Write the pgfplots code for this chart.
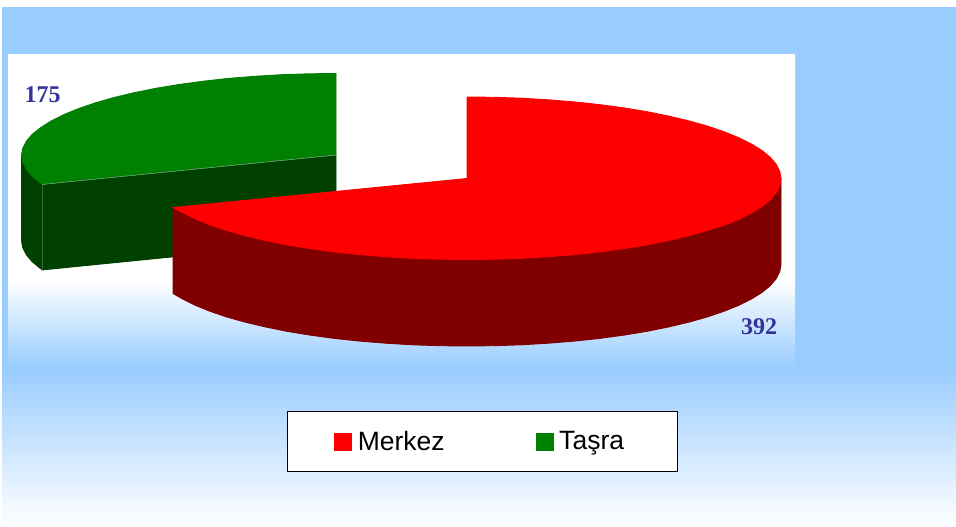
\documentclass[border=0pt]{standalone}
\usepackage{fontspec}
\setmainfont{Liberation Sans}
\newfontfamily\labelfont{Liberation Serif}
\usepackage{pgfplots}
\pgfplotsset{compat=1.18}

\definecolor{skyb}{HTML}{99CCFF}
\definecolor{lblue}{HTML}{333399}
\definecolor{topred}{HTML}{FF0000}
\definecolor{sidered}{HTML}{800000}
\definecolor{topgreen}{HTML}{008000}
\definecolor{sidegreen}{HTML}{004000}

\pgfplotsset{
  panel/.style={draw=none, top color=#1, bottom color=#1},
  slice/.style={draw=#1, fill=#1, line width=0.9pt, line join=round},
}

\begin{document}
\begin{tikzpicture}
\begin{axis}[
  scale only axis,
  width=956pt,
  height=527pt,
  xmin=0, xmax=956,
  ymin=0, ymax=527,
  y dir=reverse,
  hide axis,
  clip=false,
  legend columns=2,
  legend style={
    at={(axis cs:482.5,441.5)}, anchor=center,
    draw=black, fill=white, line width=0.8pt,
    font=\fontsize{26.5}{26.5}\selectfont,
    inner xsep=47pt, inner ysep=17.5pt,
    /tikz/every even column/.append style={column sep=89.6pt},
  },
  legend cell align=left,
  legend image code/.code={\fill[#1] (0pt,-8.5pt) rectangle (17pt,8.5pt);},
  every axis plot/.append style={forget plot, line width=0pt},
  after end axis/.code={
    \draw[gray, line width=1.4pt] (axis cs:288,471.5) -- (axis cs:677,471.5);
  },
]
  % legend entries
  \addlegendimage{topred}
  \addlegendentry{\hspace*{4pt}Merkez}
  \addlegendimage{topgreen}
  \addlegendentry{\hspace*{4pt}Taşra\hspace*{4.2pt}}

  % page and background panels
  \addplot[draw=none, fill=white] coordinates {(0,0) (956,0) (956,527) (0,527)} --cycle;
  \addplot[panel=skyb, overlay] coordinates {(2,7.6) (958,7.6) (958,368) (2,368)} --cycle;
  \addplot[draw=none, overlay, top color=skyb, bottom color=white] coordinates {(2,368) (958,368) (958,527) (2,527)} --cycle;
  \addplot[panel=white] coordinates {(8,54.6) (795,54.6) (795,280) (8,280)} --cycle;
  \addplot[draw=none, top color=white, bottom color=skyb] coordinates {(8,280) (795,280) (795,368) (8,368)} --cycle;

  % green slice: outer wall
  \addplot[slice=sidegreen] coordinates {
    (21.5,155) (21.5,240.5) (22.7,247.6) (26.3,254.7) (32.2,261.7) (40.4,268.5) (42.5,269.9)
    (42.5,184.4) (40.4,183) (32.2,176.2) (26.3,169.2) (22.7,162.1)
  } --cycle;
  % green slice: cut face
  \addplot[slice=sidegreen] coordinates {(42.5,184.4) (336,155) (336,240.5) (42.5,269.9)} --cycle;
  % green slice: top
  \addplot[slice=topgreen] coordinates {
    (336,155) (336,73.5) (308.6,73.8) (281.5,74.7) (254.7,76.3) (228.6,78.4) (203.3,81.2)
    (179,84.5) (155.9,88.3) (134.2,92.7) (114,97.5) (95.5,102.8) (78.8,108.5) (64.1,114.5)
    (51.4,120.8) (40.9,127.5) (32.2,134.3) (26.3,141.3) (22.7,148.4) (21.5,155) (22.7,162.1)
    (26.3,169.2) (32.2,176.2) (40.4,183) (42.5,184.4)
  } --cycle;
  % pale edges on the green slice
  \addplot[gray!70, line width=0.4pt] coordinates {(42.5,269.9) (42.5,184.4) (336,155)};

  % red slice: wall
  \addplot[slice=sidered] coordinates {
    (781,178.5) (781,264.5) (779.8,271.6) (776.2,278.7) (770.3,285.6) (762.1,292.4)
    (751.6,298.9) (738.9,305.25) (724.2,311.2) (707.5,316.9) (689,322.1) (668.8,326.9)
    (647.1,331.3) (624,335.1) (599.7,338.4) (574.4,341.1) (548.3,343.2) (521.5,344.8)
    (494.4,345.7) (467,346) (439.6,345.7) (412.5,344.8) (385.7,343.2) (359.6,341.1)
    (334.3,338.4) (310,335.1) (286.9,331.3) (265.2,326.9) (245,322.1) (226.5,316.9)
    (209.8,311.2) (195.1,305.25) (182.4,298.9) (173,293.5) (173,207.5)
  } --cycle;
  % red slice: top
  \addplot[slice=topred] coordinates {
    (467,178.5) (467,97) (494.4,97.3) (521.5,98.2) (548.3,99.8) (574.4,101.9) (599.7,104.6)
    (624,107.9) (647.1,111.7) (668.8,116.1) (689,120.9) (707.5,126.1) (724.2,131.8)
    (738.9,137.75) (751.6,144.1) (762.1,150.6) (770.3,157.4) (776.2,164.3) (779.8,171.4)
    (781,178.5) (779.8,185.6) (776.2,192.7) (770.3,199.6) (762.1,206.4) (751.6,212.9)
    (738.9,219.25) (724.2,225.2) (707.5,230.4) (689,235.6) (668.8,240.4) (647.1,244.8)
    (624,248.6) (599.7,251.9) (574.4,254.6) (548.3,256.7) (521.5,258.3) (494.4,259.2)
    (467,259.5) (439.6,259.2) (412.5,258.3) (385.7,256.7) (359.6,254.6) (334.3,251.9)
    (310,248.6) (286.9,244.8) (265.2,240.4) (245,235.6) (226.5,230.4) (209.8,224.7)
    (195.1,218.75) (182.4,212.4) (173,207.5)
  } --cycle;

  % value labels
  \node[text=lblue, font=\labelfont\bfseries\fontsize{24}{24}\selectfont] at (axis cs:42.5,95) {175};
  \node[text=lblue, font=\labelfont\bfseries\fontsize{24}{24}\selectfont] at (axis cs:759,327) {392};
\end{axis}
\end{tikzpicture}
\end{document}
